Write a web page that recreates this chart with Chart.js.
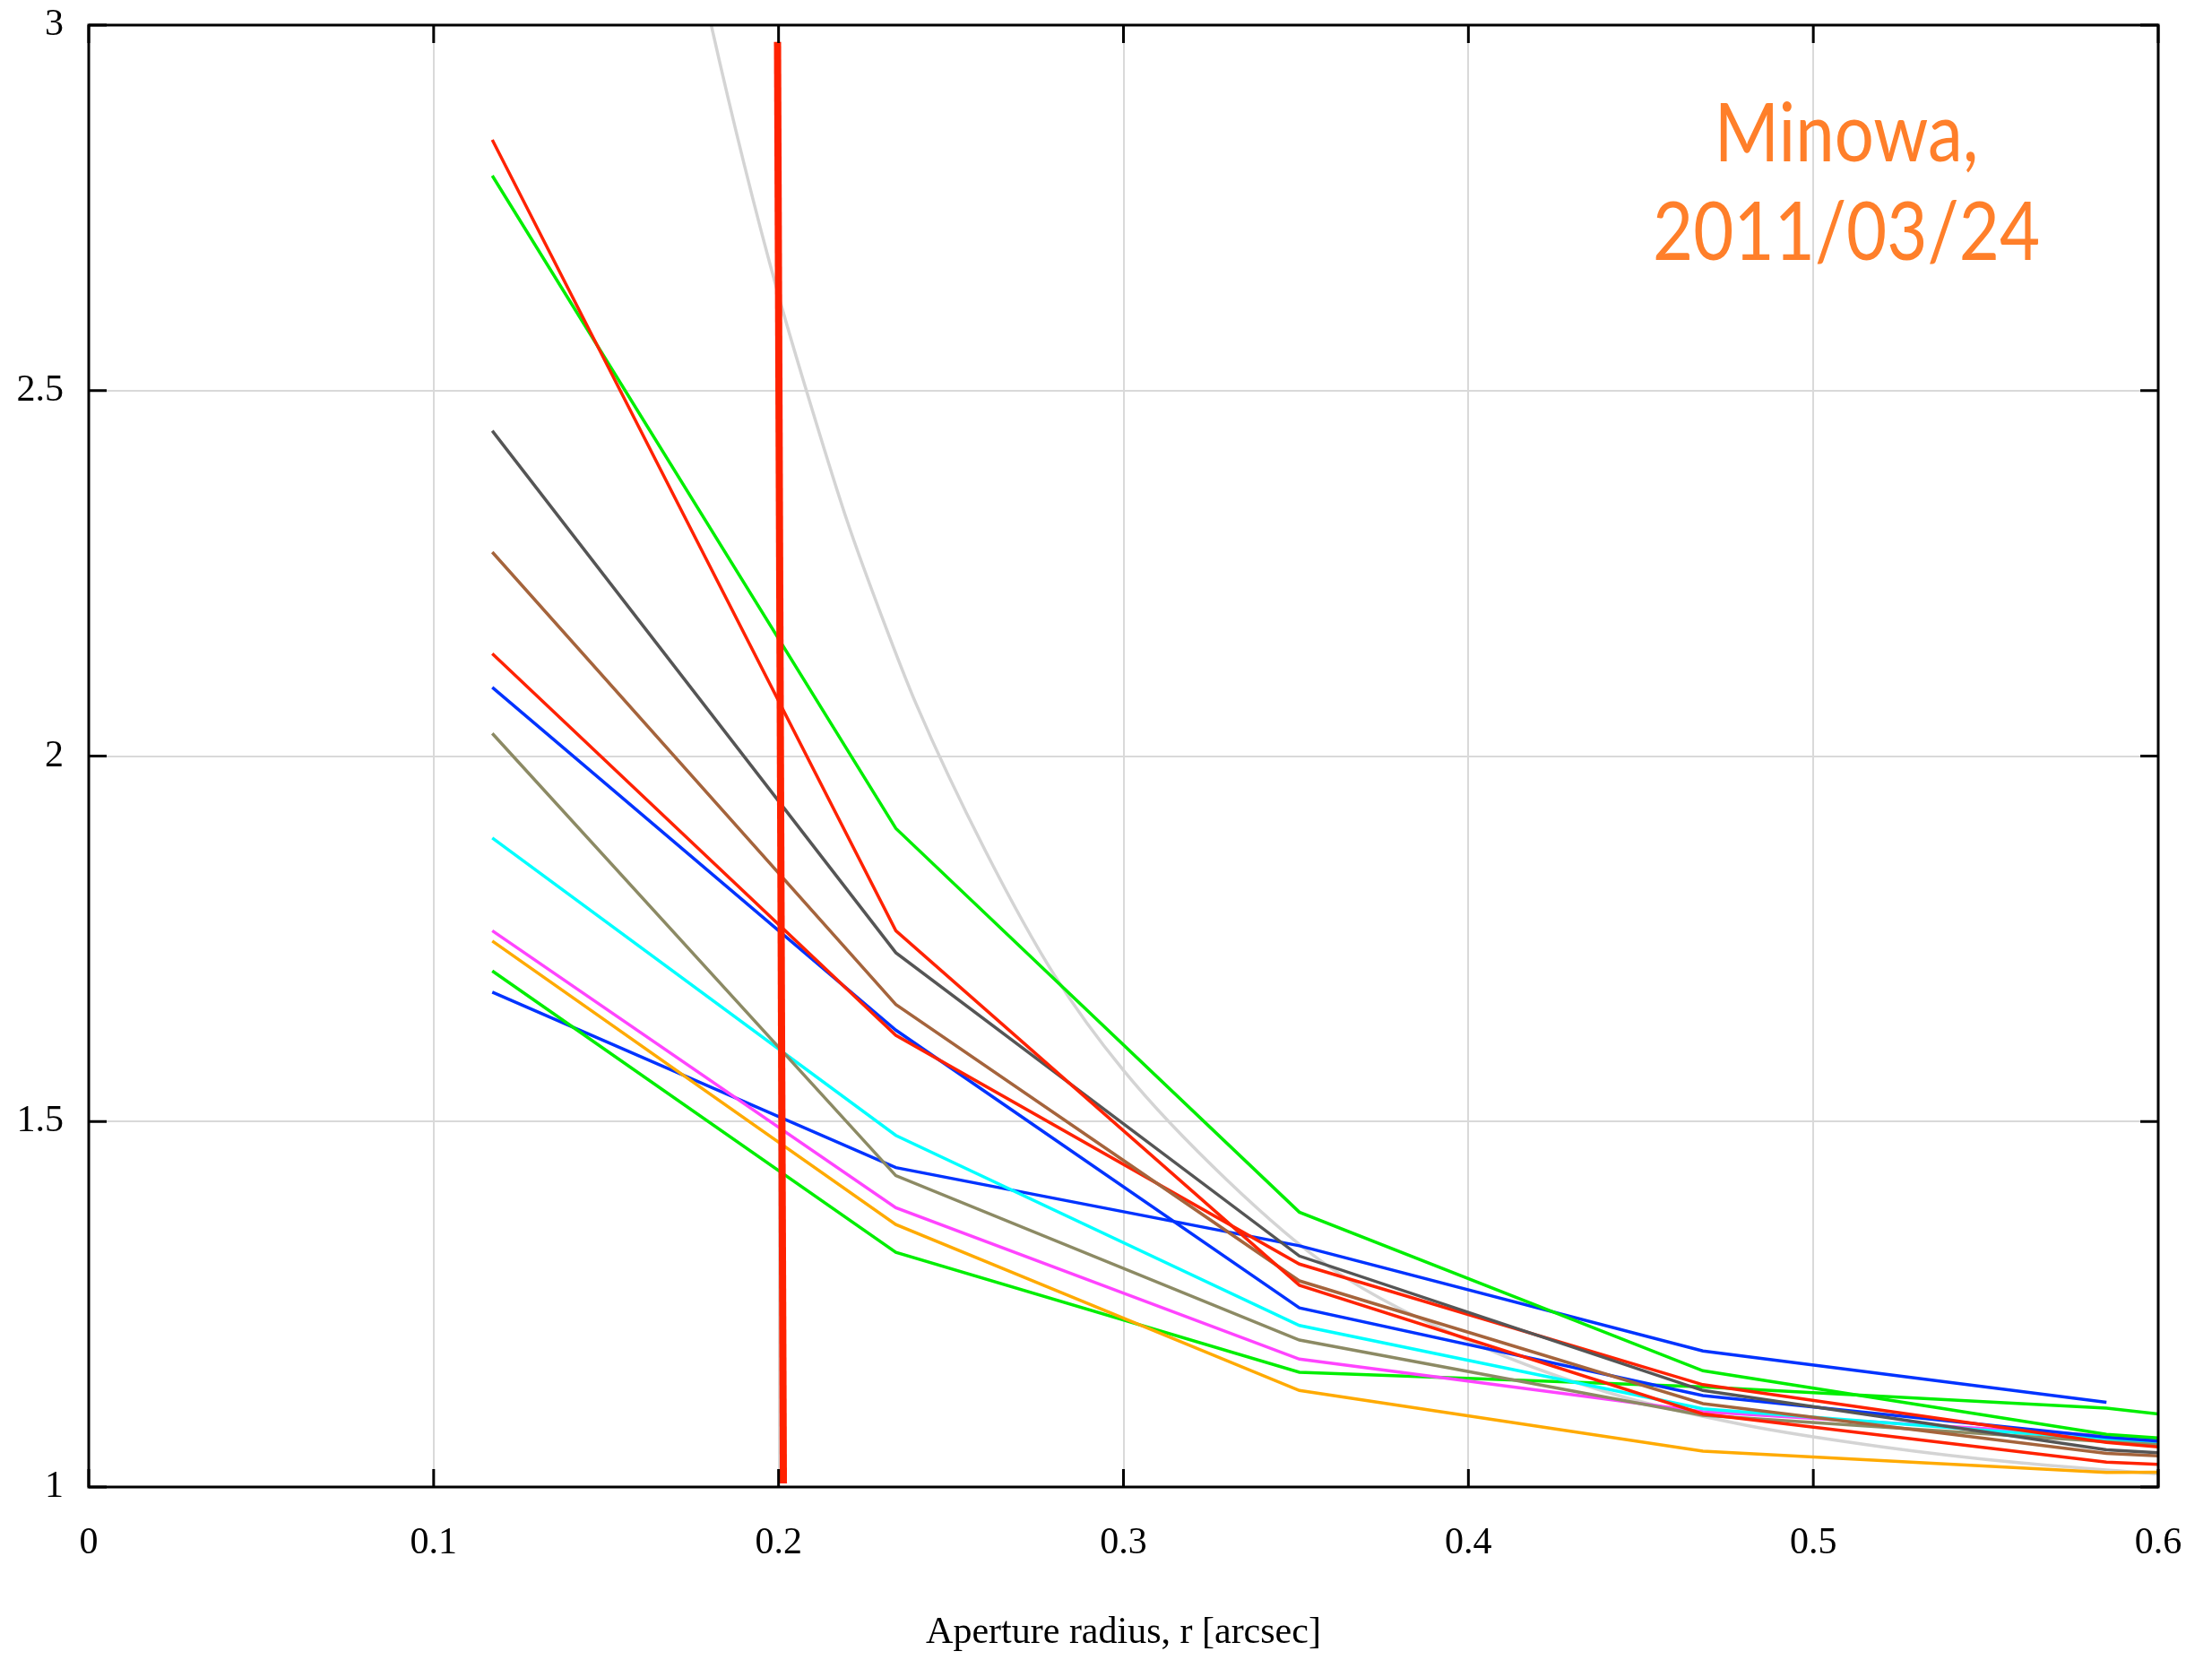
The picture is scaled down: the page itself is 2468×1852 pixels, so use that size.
<!DOCTYPE html>
<html>
<head>
<meta charset="utf-8">
<script src="https://cdn.jsdelivr.net/npm/chart.js@4.4.1/dist/chart.umd.min.js"></script>
<style>
  html, body { margin: 0; padding: 0; background: #fff; }
  canvas { display: block; }
</style>
</head>
<body>
<canvas id="myChart" width="2468" height="1852"></canvas>
<script>
// aperture radii of the measured points [arcsec]
const radius = [0.117, 0.234, 0.351, 0.468, 0.585, 0.702];

// one array per measured profile
const redSteep  = [2.843, 1.761, 1.276, 1.100, 1.034, 1.011];
const greenHigh = [2.794, 1.901, 1.376, 1.159, 1.072, 1.033];
const darkGray  = [2.445, 1.731, 1.316, 1.132, 1.051, 1.020];
const brown     = [2.279, 1.660, 1.282, 1.114, 1.046, 1.019];
const redMid    = [2.140, 1.618, 1.305, 1.140, 1.061, 1.014];
const blueHigh  = [2.094, 1.625, 1.245, 1.125, 1.068, 1.029];
const olive     = [2.031, 1.426, 1.201, 1.098, 1.062, 1.030];
const cyan      = [1.888, 1.481, 1.221, 1.107, 1.065, 1.018];
const magenta   = [1.761, 1.382, 1.175, 1.103, 1.070, 1.030];
const orange    = [1.747, 1.359, 1.132, 1.049, 1.020, 1.021];
const greenLow  = [1.706, 1.321, 1.157, 1.137, 1.108, 1.046];
const blueLow   = [1.677, 1.437, 1.330, 1.186, 1.116];

// light grey reference curve
const curveR = [0.17, 0.18, 0.19, 0.20, 0.21, 0.22, 0.23, 0.24, 0.26, 0.28, 0.30, 0.33, 0.36, 0.40, 0.44, 0.48, 0.52, 0.56, 0.60];
const curveY = [3.23, 3.01, 2.81, 2.63, 2.47, 2.32, 2.19, 2.07, 1.87, 1.70, 1.57, 1.42, 1.30, 1.20, 1.13, 1.085, 1.055, 1.033, 1.018];

// thick red marker near r = 0.2
const markR = [0.1997, 0.2014];
const markY = [2.977, 1.005];

const xTickLabels = ['0', '0.1', '0.2', '0.3', '0.4', '0.5', '0.6'];
const yTickLabels = ['1', '1.5', '2', '2.5', '3'];
const note = ['Minowa,', '2011/03/24'];

const pts = (xs, ys) => ys.map((v, i) => ({ x: xs[i], y: v }));

const profiles = [
  [redSteep, '#ff2200'],
  [greenHigh, '#00ee00'],
  [darkGray, '#555555'],
  [brown, '#a5643c'],
  [redMid, '#ff2200'],
  [blueHigh, '#0033ff'],
  [olive, '#8c8a64'],
  [cyan, '#00ffff'],
  [magenta, '#ff44ff'],
  [orange, '#ffaa00'],
  [greenLow, '#00ee00'],
  [blueLow, '#0033ff']
];

const datasets = [{
  data: pts(markR, markY),
  borderColor: '#ff2200',
  borderWidth: 8,
  pointRadius: 0,
  order: 0,
  clip: 0
}];
profiles.forEach((p, i) => {
  datasets.push({
    data: pts(radius, p[0]),
    borderColor: p[1],
    borderWidth: 3.5,
    pointRadius: 0,
    tension: 0,
    order: i + 1,
    clip: 0
  });
});
datasets.push({
  data: pts(curveR, curveY),
  borderColor: '#d4d4d4',
  borderWidth: 3.5,
  pointRadius: 0,
  cubicInterpolationMode: 'monotone',
  order: 50,
  clip: 0
});

const frame = {
  id: 'frame',
  afterDatasetsDraw(chart) {
    const { ctx, chartArea: a, scales: { x, y } } = chart;
    ctx.save();
    ctx.strokeStyle = '#000';
    ctx.lineWidth = 3;
    ctx.beginPath();
    x.ticks.forEach(t => {
      const px = x.getPixelForValue(t.value);
      ctx.moveTo(px, a.bottom); ctx.lineTo(px, a.bottom - 20);
      ctx.moveTo(px, a.top); ctx.lineTo(px, a.top + 20);
    });
    y.ticks.forEach(t => {
      const py = y.getPixelForValue(t.value);
      ctx.moveTo(a.left, py); ctx.lineTo(a.left + 20, py);
      ctx.moveTo(a.right, py); ctx.lineTo(a.right - 20, py);
    });
    ctx.stroke();
    ctx.strokeRect(a.left, a.top, a.right - a.left, a.bottom - a.top);

    // orange note in the upper right corner
    ctx.fillStyle = '#ff7f2a';
    ctx.font = '92px Lato';
    ctx.textAlign = 'center';
    ctx.textBaseline = 'alphabetic';
    const sx = 432 / ctx.measureText(note[1]).width;
    const cx = x.getPixelForValue(0.5096);
    ctx.translate(cx, 0);
    ctx.scale(sx, 1);
    ctx.fillText(note[0], 0, a.top + 152);
    ctx.fillText(note[1], 0, a.top + 262);
    ctx.restore();
  }
};

const serif = "'Liberation Serif', 'Times New Roman', serif";

new Chart(document.getElementById('myChart'), {
  type: 'line',
  data: { datasets: datasets },
  options: {
    responsive: false,
    animation: false,
    layout: { padding: { left: 0, right: 60, top: 28, bottom: 0 } },
    plugins: {
      legend: { display: false },
      tooltip: { enabled: false }
    },
    scales: {
      x: {
        type: 'linear',
        min: 0,
        max: 0.6,
        afterFit: s => { s.height = 193; s.paddingLeft = 0; s.paddingRight = 0; },
        grid: { color: '#d9d9d9', lineWidth: 2, drawTicks: false },
        border: { display: false },
        ticks: {
          stepSize: 0.1,
          autoSkip: false,
          maxRotation: 0,
          padding: 38,
          color: '#000',
          font: { family: serif, size: 42 },
          callback: (v, i) => xTickLabels[i]
        },
        title: {
          display: true,
          text: 'Aperture radius, r [arcsec]',
          color: '#000',
          font: { family: serif, size: 42 },
          padding: { top: 0, bottom: 5 }
        }
      },
      y: {
        min: 1,
        max: 3,
        afterFit: s => { s.width = 99; s.paddingTop = 0; s.paddingBottom = 0; },
        grid: { color: '#d9d9d9', lineWidth: 2, drawTicks: false },
        border: { display: false },
        ticks: {
          stepSize: 0.5,
          padding: 28,
          labelOffset: 0,
          color: '#000',
          font: { family: serif, size: 42 },
          callback: (v, i) => yTickLabels[i]
        }
      }
    }
  },
  plugins: [frame]
});
</script>
</body>
</html>
